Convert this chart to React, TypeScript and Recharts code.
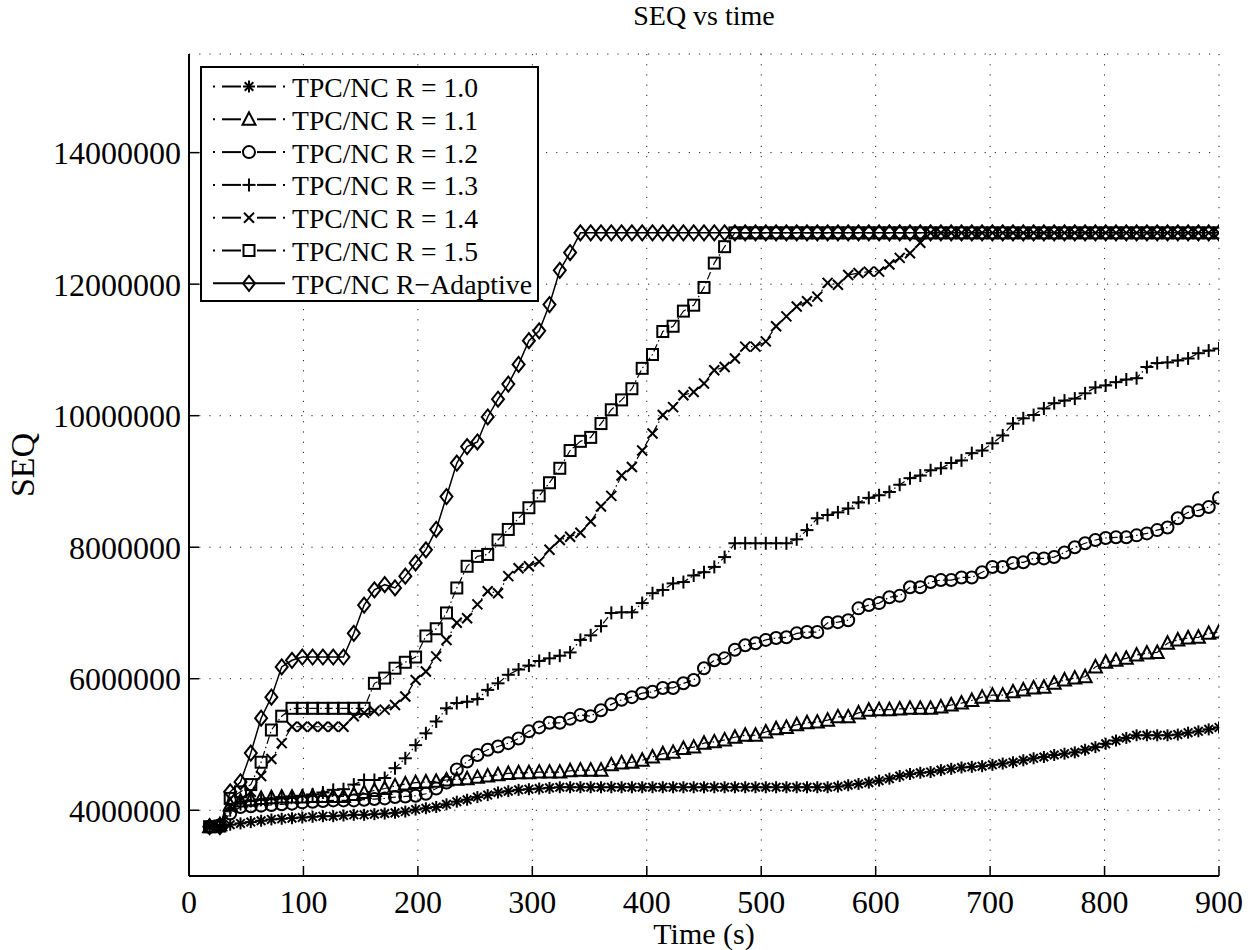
import React from 'react';
import { LineChart, Line, XAxis, YAxis, CartesianGrid, Legend } from 'recharts';

const FONT = "'Liberation Serif', 'Times New Roman', Times, serif";

// sample times (s)
const TIME = [
  18, 27, 36, 45, 54, 63, 72, 81, 90, 99,
  108, 117, 126, 135, 144, 153, 162, 171, 180, 189,
  198, 207, 216, 225, 234, 243, 252, 261, 270, 279,
  288, 297, 306, 315, 324, 333, 342, 351, 360, 369,
  378, 387, 396, 405, 414, 423, 432, 441, 450, 459,
  468, 477, 486, 495, 504, 513, 522, 531, 540, 549,
  558, 567, 576, 585, 594, 603, 612, 621, 630, 639,
  648, 657, 666, 675, 684, 693, 702, 711, 720, 729,
  738, 747, 756, 765, 774, 783, 792, 801, 810, 819,
  828, 837, 846, 855, 864, 873, 882, 891, 900,
];

// SEQ values in millions
const R10 = [
  3.75, 3.74, 3.78, 3.80, 3.82, 3.84, 3.86, 3.87, 3.88, 3.89,
  3.90, 3.91, 3.91, 3.92, 3.93, 3.93, 3.94, 3.95, 3.96, 3.98,
  4.01, 4.03, 4.05, 4.09, 4.13, 4.16, 4.20, 4.23, 4.27, 4.29,
  4.31, 4.32, 4.33, 4.34, 4.35, 4.35, 4.35, 4.35, 4.35, 4.35,
  4.35, 4.35, 4.35, 4.35, 4.35, 4.35, 4.35, 4.35, 4.35, 4.35,
  4.35, 4.35, 4.35, 4.35, 4.35, 4.35, 4.35, 4.35, 4.35, 4.35,
  4.35, 4.36, 4.38, 4.40, 4.42, 4.45, 4.48, 4.52, 4.55, 4.57,
  4.58, 4.61, 4.63, 4.65, 4.66, 4.67, 4.69, 4.71, 4.73, 4.76,
  4.79, 4.81, 4.84, 4.86, 4.88, 4.92, 4.96, 5.01, 5.06, 5.10,
  5.14, 5.14, 5.14, 5.14, 5.15, 5.18, 5.20, 5.23, 5.26,
];

const R11 = [
  3.75, 3.78, 4.08, 4.14, 4.16, 4.18, 4.19, 4.20, 4.20, 4.20,
  4.21, 4.21, 4.21, 4.21, 4.24, 4.27, 4.30, 4.33, 4.37, 4.40,
  4.42, 4.43, 4.44, 4.46, 4.47, 4.48, 4.50, 4.52, 4.54, 4.56,
  4.57, 4.57, 4.58, 4.58, 4.58, 4.60, 4.61, 4.61, 4.61, 4.69,
  4.72, 4.73, 4.76, 4.81, 4.86, 4.88, 4.94, 4.96, 5.02, 5.04,
  5.07, 5.11, 5.14, 5.14, 5.19, 5.24, 5.26, 5.30, 5.33, 5.34,
  5.37, 5.42, 5.42, 5.48, 5.52, 5.53, 5.53, 5.54, 5.55, 5.55,
  5.55, 5.57, 5.60, 5.63, 5.67, 5.72, 5.75, 5.75, 5.80, 5.83,
  5.86, 5.87, 5.93, 5.98, 6.01, 6.03, 6.18, 6.25, 6.28, 6.31,
  6.36, 6.39, 6.40, 6.54, 6.59, 6.62, 6.63, 6.69, 6.71,
];

const R12 = [
  3.75, 3.77, 3.95, 4.05, 4.06, 4.07, 4.08, 4.09, 4.10, 4.12,
  4.13, 4.14, 4.15, 4.15, 4.15, 4.16, 4.17, 4.18, 4.20, 4.21,
  4.22, 4.25, 4.33, 4.42, 4.62, 4.74, 4.84, 4.92, 4.97, 5.02,
  5.09, 5.20, 5.26, 5.33, 5.33, 5.39, 5.45, 5.43, 5.52, 5.61,
  5.68, 5.72, 5.78, 5.80, 5.86, 5.86, 5.93, 5.98, 6.16, 6.28,
  6.31, 6.44, 6.51, 6.54, 6.59, 6.62, 6.63, 6.69, 6.71, 6.71,
  6.85, 6.86, 6.89, 7.07, 7.12, 7.15, 7.24, 7.26, 7.39, 7.39,
  7.47, 7.50, 7.50, 7.54, 7.54, 7.62, 7.70, 7.70, 7.76, 7.77,
  7.83, 7.83, 7.85, 7.92, 8.00, 8.06, 8.11, 8.14, 8.15, 8.15,
  8.18, 8.21, 8.26, 8.30, 8.44, 8.53, 8.56, 8.61, 8.75,
];

const R13 = [
  3.75, 3.76, 4.00, 4.10, 4.14, 4.16, 4.18, 4.20, 4.21, 4.22,
  4.24, 4.27, 4.31, 4.32, 4.39, 4.46, 4.46, 4.49, 4.64, 4.79,
  4.99, 5.17, 5.35, 5.55, 5.63, 5.65, 5.69, 5.83, 5.93, 6.06,
  6.14, 6.20, 6.27, 6.31, 6.35, 6.40, 6.59, 6.66, 6.80, 7.00,
  7.01, 7.01, 7.15, 7.30, 7.35, 7.45, 7.47, 7.57, 7.62, 7.70,
  7.85, 8.06, 8.06, 8.06, 8.06, 8.06, 8.06, 8.12, 8.26, 8.44,
  8.49, 8.53, 8.59, 8.68, 8.75, 8.79, 8.84, 8.95, 9.05, 9.09,
  9.17, 9.20, 9.28, 9.32, 9.43, 9.47, 9.58, 9.70, 9.88, 9.96,
  10.01, 10.11, 10.19, 10.23, 10.26, 10.34, 10.43, 10.46, 10.51, 10.55,
  10.57, 10.74, 10.80, 10.81, 10.84, 10.87, 10.95, 10.99, 11.02,
];

const R14 = [
  3.75, 3.75, 4.05, 4.15, 4.28, 4.52, 4.78, 5.02, 5.27, 5.27,
  5.27, 5.27, 5.27, 5.27, 5.43, 5.48, 5.51, 5.53, 5.60, 5.73,
  5.98, 6.11, 6.34, 6.59, 6.85, 6.92, 7.13, 7.33, 7.30, 7.56,
  7.68, 7.71, 7.78, 7.96, 8.11, 8.16, 8.22, 8.39, 8.62, 8.78,
  9.09, 9.22, 9.47, 9.73, 10.01, 10.13, 10.31, 10.36, 10.49, 10.69,
  10.74, 10.87, 11.05, 11.05, 11.13, 11.36, 11.51, 11.66, 11.74, 11.81,
  12.02, 11.99, 12.14, 12.17, 12.19, 12.19, 12.30, 12.40, 12.47, 12.63,
  12.78, 12.78, 12.78, 12.78, 12.78, 12.78, 12.78, 12.78, 12.78, 12.78,
  12.78, 12.78, 12.78, 12.78, 12.78, 12.78, 12.78, 12.78, 12.78, 12.78,
  12.78, 12.78, 12.78, 12.78, 12.78, 12.78, 12.78, 12.78, 12.78,
];

const R15 = [
  3.75, 3.76, 4.18, 4.28, 4.39, 4.73, 5.22, 5.43, 5.55, 5.55,
  5.55, 5.55, 5.55, 5.55, 5.55, 5.55, 5.93, 6.01, 6.16, 6.25,
  6.33, 6.65, 6.76, 7.00, 7.38, 7.71, 7.86, 7.89, 8.11, 8.27,
  8.44, 8.60, 8.78, 8.98, 9.20, 9.47, 9.61, 9.67, 9.88, 10.09,
  10.24, 10.41, 10.72, 10.93, 11.28, 11.36, 11.59, 11.68, 11.95, 12.32,
  12.57, 12.78, 12.78, 12.78, 12.78, 12.78, 12.78, 12.78, 12.78, 12.78,
  12.78, 12.78, 12.78, 12.78, 12.78, 12.78, 12.78, 12.78, 12.78, 12.78,
  12.78, 12.78, 12.78, 12.78, 12.78, 12.78, 12.78, 12.78, 12.78, 12.78,
  12.78, 12.78, 12.78, 12.78, 12.78, 12.78, 12.78, 12.78, 12.78, 12.78,
  12.78, 12.78, 12.78, 12.78, 12.78, 12.78, 12.78, 12.78, 12.78,
];

const RADAPT = [
  3.75, 3.75, 4.28, 4.43, 4.87, 5.40, 5.72, 6.18, 6.28, 6.33,
  6.33, 6.33, 6.33, 6.33, 6.69, 7.12, 7.35, 7.43, 7.38, 7.56,
  7.76, 7.96, 8.27, 8.77, 9.28, 9.53, 9.60, 9.98, 10.25, 10.48,
  10.78, 11.14, 11.29, 11.69, 12.21, 12.48, 12.78, 12.78, 12.78, 12.78,
  12.78, 12.78, 12.78, 12.78, 12.78, 12.78, 12.78, 12.78, 12.78, 12.78,
  12.78, 12.78, 12.78, 12.78, 12.78, 12.78, 12.78, 12.78, 12.78, 12.78,
  12.78, 12.78, 12.78, 12.78, 12.78, 12.78, 12.78, 12.78, 12.78, 12.78,
  12.78, 12.78, 12.78, 12.78, 12.78, 12.78, 12.78, 12.78, 12.78, 12.78,
  12.78, 12.78, 12.78, 12.78, 12.78, 12.78, 12.78, 12.78, 12.78, 12.78,
  12.78, 12.78, 12.78, 12.78, 12.78, 12.78, 12.78, 12.78, 12.78,
];

const X_TICKS = [0, 100, 200, 300, 400, 500, 600, 700, 800, 900];
const Y_TICKS = [4000000, 6000000, 8000000, 10000000, 12000000, 14000000];

type MarkerType = 'star' | 'triangle' | 'circle' | 'plus' | 'x' | 'square' | 'diamond';

const SERIES: { key: string; name: string; values: number[]; marker: MarkerType; dashed: boolean }[] = [
  { key: 'r10', name: 'TPC/NC R = 1.0', values: R10, marker: 'star', dashed: true },
  { key: 'r11', name: 'TPC/NC R = 1.1', values: R11, marker: 'triangle', dashed: true },
  { key: 'r12', name: 'TPC/NC R = 1.2', values: R12, marker: 'circle', dashed: true },
  { key: 'r13', name: 'TPC/NC R = 1.3', values: R13, marker: 'plus', dashed: true },
  { key: 'r14', name: 'TPC/NC R = 1.4', values: R14, marker: 'x', dashed: true },
  { key: 'r15', name: 'TPC/NC R = 1.5', values: R15, marker: 'square', dashed: true },
  { key: 'radapt', name: 'TPC/NC R\u2212Adaptive', values: RADAPT, marker: 'diamond', dashed: false },
];

const DATA = TIME.map((t, i) => {
  const row: Record<string, number> = { t };
  SERIES.forEach((s) => {
    row[s.key] = s.values[i] * 1000000;
  });
  return row;
});

function Marker({ type, cx, cy }: { type: MarkerType; cx: number; cy: number }) {
  const p = { fill: 'none', stroke: '#000', strokeWidth: 2 };
  switch (type) {
    case 'star':
      return (
        <g {...p}>
          <line x1={cx - 6} y1={cy} x2={cx + 6} y2={cy} />
          <line x1={cx} y1={cy - 6} x2={cx} y2={cy + 6} />
          <line x1={cx - 4.3} y1={cy - 4.3} x2={cx + 4.3} y2={cy + 4.3} />
          <line x1={cx - 4.3} y1={cy + 4.3} x2={cx + 4.3} y2={cy - 4.3} />
        </g>
      );
    case 'triangle':
      return <polygon points={`${cx},${cy - 7} ${cx - 6.5},${cy + 5.5} ${cx + 6.5},${cy + 5.5}`} {...p} />;
    case 'circle':
      return <circle cx={cx} cy={cy} r={6} {...p} />;
    case 'plus':
      return (
        <g {...p}>
          <line x1={cx - 6.5} y1={cy} x2={cx + 6.5} y2={cy} />
          <line x1={cx} y1={cy - 6.5} x2={cx} y2={cy + 6.5} />
        </g>
      );
    case 'x':
      return (
        <g {...p}>
          <line x1={cx - 5} y1={cy - 5} x2={cx + 5} y2={cy + 5} />
          <line x1={cx - 5} y1={cy + 5} x2={cx + 5} y2={cy - 5} />
        </g>
      );
    case 'square':
      return <rect x={cx - 5.5} y={cy - 5.5} width={11} height={11} {...p} />;
    case 'diamond':
    default:
      return <polygon points={`${cx},${cy - 7.5} ${cx + 6},${cy} ${cx},${cy + 7.5} ${cx - 6},${cy}`} {...p} />;
  }
}

function LegendBox() {
  const rowH = 32.8;
  return (
    <div
      style={{
        width: 339,
        height: 236,
        border: '2px solid #000',
        boxSizing: 'border-box',
        background: '#fff',
      }}
    >
      <svg width={335} height={232} style={{ display: 'block' }}>
        {SERIES.map((s, i) => {
          const cy = 18.5 + rowH * i;
          return (
            <g key={s.key}>
              {s.dashed ? (
                <g stroke="#000" strokeWidth={2}>
                  <line x1={11} y1={cy} x2={13} y2={cy} />
                  <line x1={20} y1={cy} x2={39} y2={cy} />
                  <line x1={55} y1={cy} x2={74} y2={cy} />
                  <line x1={81} y1={cy} x2={83} y2={cy} />
                </g>
              ) : (
                <line x1={11} y1={cy} x2={83} y2={cy} stroke="#000" strokeWidth={2} />
              )}
              <Marker type={s.marker} cx={47} cy={cy} />
              <text
                x={90}
                y={cy + 1}
                dominantBaseline="central"
                fontFamily={FONT}
                fontSize={28}
                fill="#000"
                textLength={s.dashed ? 186 : 240}
                lengthAdjust="spacingAndGlyphs"
              >
                {s.name}
              </text>
            </g>
          );
        })}
      </svg>
    </div>
  );
}

export default function App() {
  return (
    <div style={{ position: 'absolute', left: 0, top: 0, width: 1253, height: 950, background: '#fff' }}>
      <svg
        width={1253}
        height={44}
        style={{ position: 'absolute', left: 0, top: 0, zIndex: 2, pointerEvents: 'none' }}
      >
        <text x={704} y={25} textAnchor="middle" fontFamily={FONT} fontSize={28} fill="#000">
          SEQ vs time
        </text>
      </svg>
      <LineChart
        width={1253}
        height={950}
        data={DATA}
        margin={{ top: 54, right: 34, bottom: 0, left: 0 }}
      >
        <CartesianGrid stroke="#222" strokeWidth={1} strokeDasharray="1.2 9" />
        <XAxis
          dataKey="t"
          type="number"
          domain={[0, 900]}
          ticks={X_TICKS}
          allowDataOverflow
          height={74}
          axisLine={{ stroke: '#000', strokeWidth: 2 }}
          tickLine={{ stroke: '#000', strokeWidth: 1.5 }}
          tickSize={-10}
          tickMargin={24}
          tick={{ fill: '#000', fontSize: 32, fontFamily: FONT }}
          interval={0}
          label={(props: any) => {
            const vb = props.viewBox || { x: 189, y: 876, width: 1030, height: 74 };
            return (
              <text
                x={vb.x + vb.width / 2}
                y={vb.y + 57}
                textAnchor="middle"
                dominantBaseline="central"
                fontFamily={FONT}
                fontSize={30}
                fill="#000"
              >
                Time (s)
              </text>
            );
          }}
        />
        <YAxis
          type="number"
          domain={[3000000, 15500000]}
          ticks={Y_TICKS}
          allowDataOverflow
          width={189}
          axisLine={{ stroke: '#000', strokeWidth: 2 }}
          tickLine={{ stroke: '#000', strokeWidth: 1.5 }}
          tickSize={-10}
          tickMargin={18}
          tick={{ fill: '#000', fontSize: 32, fontFamily: FONT }}
          interval={0}
          tickFormatter={(v: number) => String(v)}
          label={(props: any) => {
            const vb = props.viewBox || { x: 0, y: 54, width: 189, height: 822 };
            const cx = 22;
            const cy = vb.y + vb.height / 2;
            return (
              <text
                x={cx}
                y={cy}
                transform={`rotate(-90 ${cx} ${cy})`}
                textAnchor="middle"
                dominantBaseline="central"
                fontFamily={FONT}
                fontSize={34}
                fill="#000"
              >
                SEQ
              </text>
            );
          }}
        />
        <Legend
          layout="vertical"
          align="center"
          verticalAlign="middle"
          content={() => <LegendBox />}
          wrapperStyle={{ position: 'absolute', left: 200, top: 66, width: 339, height: 236 }}
        />
        {SERIES.map((s) => (
          <Line
            key={s.key}
            dataKey={s.key}
            name={s.name}
            type="linear"
            stroke="#000"
            strokeWidth={s.dashed ? 1.2 : 1.5}
            strokeDasharray={s.dashed ? '8 3 1.5 3' : undefined}
            isAnimationActive={false}
            activeDot={false}
            dot={(props: any) => {
              const { cx, cy, index } = props;
              if (cx == null || cy == null) return <g key={`${s.key}-${index}`} />;
              return (
                <g key={`${s.key}-${index}`}>
                  <Marker type={s.marker} cx={cx} cy={cy} />
                </g>
              );
            }}
          />
        ))}
      </LineChart>
    </div>
  );
}
